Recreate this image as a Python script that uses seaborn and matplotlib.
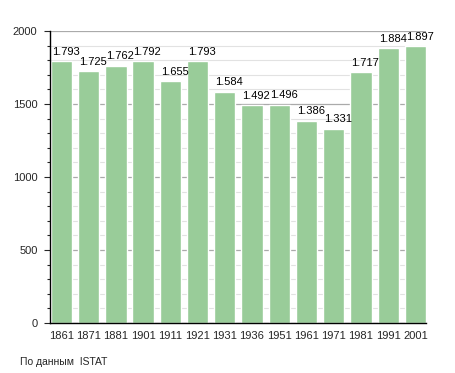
import matplotlib
matplotlib.use("Agg")
import matplotlib.pyplot as plt
import seaborn as sns
import pandas as pd
from matplotlib.ticker import MultipleLocator

years = ["1861", "1871", "1881", "1901", "1911", "1921", "1931", "1936",
         "1951", "1961", "1971", "1981", "1991", "2001"]
population = [1793, 1725, 1762, 1792, 1655, 1793, 1584, 1492,
              1496, 1386, 1331, 1717, 1884, 1897]
value_labels = ["1.793", "1.725", "1.762", "1.792", "1.655", "1.793", "1.584",
                "1.492", "1.496", "1.386", "1.331", "1.717", "1.884", "1.897"]

df = pd.DataFrame({"year": years, "pop": population})

sns.set_style("white")
plt.rcParams['font.family'] = ['Liberation Sans', 'DejaVu Sans']

fig = plt.figure(figsize=(4.55, 3.73), dpi=100)
ax = fig.add_axes([50/455, 1-323/373, 376/455, 292/373])

w = 0.78
sns.barplot(data=df, x="year", y="pop", color="#99cc99", saturation=1,
            width=w, ax=ax, zorder=2)

ax.set_xlim(-w/2 - 0.03, len(years)-1+w/2)
ax.set_ylim(0, 2000)
ax.yaxis.set_major_locator(MultipleLocator(500))
ax.yaxis.set_minor_locator(MultipleLocator(100))
ax.grid(axis="y", which="major", color="#aaaaaa", linewidth=0.9, zorder=0)
ax.grid(axis="y", which="minor", color="#e2e2e2", linewidth=0.8, zorder=0)
ax.set_axisbelow(True)

for s in ["top", "right"]:
    ax.spines[s].set_visible(False)
for s in ["left", "bottom"]:
    ax.spines[s].set_color("black")
    ax.spines[s].set_linewidth(1.0)
    ax.spines[s].set_zorder(5)

ax.tick_params(axis="y", which="major", left=True, length=4, width=0.8,
               labelsize=8, pad=5)
ax.tick_params(axis="y", which="minor", left=True, length=2.5, width=0.8)
ax.tick_params(axis="x", bottom=False, labelsize=8, pad=2)
ax.set_xlabel("")
ax.set_ylabel("")

for i, (v, lab) in enumerate(zip(population, value_labels)):
    ax.text(i - w/2 + 0.04, v + 30, lab, ha="left", va="bottom",
            fontsize=8, color="black")

fig.text(20/455, 1-362/373, "По данным  ISTAT", fontsize=7.5, va="center", ha="left")

fig.savefig("out.png", dpi=100)
